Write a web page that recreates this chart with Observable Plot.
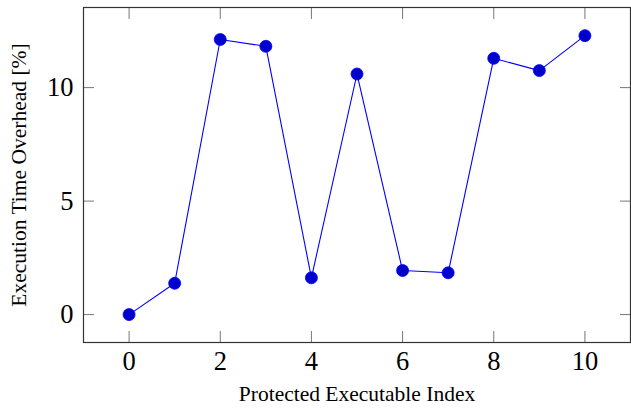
<!DOCTYPE html>
<html>
<head>
<meta charset="utf-8">
<script src="https://cdn.jsdelivr.net/npm/d3@7"></script>
<script src="https://cdn.jsdelivr.net/npm/@observablehq/plot@0.6"></script>
<style>
  html, body { margin: 0; padding: 0; background: #fff; }
  #chart svg { display: block; }
</style>
</head>
<body>
<div id="chart"></div>
<script>
const indices = [0, 1, 2, 3, 4, 5, 6, 7, 8, 9, 10];
const overhead = [0, 1.38, 12.12, 11.82, 1.62, 10.60, 1.94, 1.84, 11.29, 10.75, 12.29];
const xTicks = [0, 2, 4, 6, 8, 10];
const yTicks = [0, 5, 10];

const data = indices.map((x, i) => ({x, y: overhead[i]}));
const serif = "Liberation Serif, DejaVu Serif, serif";

const chart = Plot.plot({
  width: 631,
  height: 410,
  marginLeft: 83,
  marginRight: 1,
  marginTop: 7,
  marginBottom: 68,
  style: {background: "#fff", color: "#000", fontFamily: serif},
  x: {domain: [-1, 11]},
  y: {domain: [-1.23, 13.53]},
  marks: [
    Plot.axisX(xTicks, {anchor: "bottom", tickSize: 0, tickPadding: 9, fontSize: 26.5, fontFamily: serif, label: null}),
    Plot.axisX({anchor: "bottom", ticks: [], tickSize: 0, label: "Protected Executable Index", labelAnchor: "center", labelOffset: 58, labelArrow: "none", fontSize: 21.5, fontFamily: serif}),
    Plot.axisX(xTicks, {anchor: "bottom", tickSize: -11, text: null, label: null, stroke: "#777"}),
    Plot.axisX(xTicks, {anchor: "top", tickSize: -11, text: null, label: null, stroke: "#777"}),
    Plot.axisY(yTicks, {anchor: "left", tickSize: 0, tickPadding: 10, fontSize: 26.5, fontFamily: serif, label: null}),
    Plot.axisY({anchor: "left", ticks: [], tickSize: 0, label: "Execution Time Overhead [%]", labelAnchor: "center", labelOffset: 73, labelArrow: "none", fontSize: 21.5, fontFamily: serif}),
    Plot.axisY(yTicks, {anchor: "left", tickSize: -11, text: null, label: null, stroke: "#777"}),
    Plot.axisY(yTicks, {anchor: "right", tickSize: -11, text: null, label: null, stroke: "#777"}),
    Plot.frame({stroke: "#333", strokeWidth: 1.2}),
    Plot.line(data, {x: "x", y: "y", stroke: "#0000ff", strokeWidth: 1.1}),
    Plot.dot(data, {x: "x", y: "y", r: 6, fill: "#0000cc", stroke: "#0000ff", strokeWidth: 0.8})
  ]
});

document.getElementById("chart").appendChild(chart);
</script>
</body>
</html>
